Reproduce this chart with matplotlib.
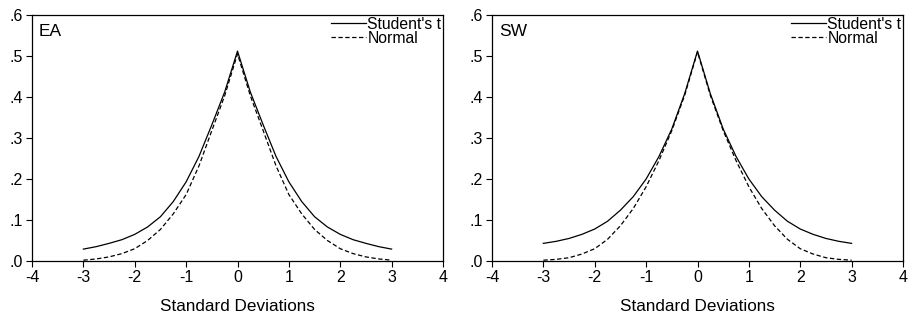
import matplotlib
matplotlib.use("Agg")
import matplotlib.pyplot as plt
from matplotlib.ticker import FuncFormatter, FixedLocator

plt.rcParams['font.family'] = ['Liberation Sans', 'DejaVu Sans']

x_vals = [-3.0, -2.75, -2.5, -2.25, -2.0, -1.75, -1.5, -1.25, -1.0, -0.75, -0.5, -0.25,
          0.0, 0.25, 0.5, 0.75, 1.0, 1.25, 1.5, 1.75, 2.0, 2.25, 2.5, 2.75, 3.0]

ea_student = [0.029, 0.035, 0.043, 0.052, 0.065, 0.083, 0.108, 0.145, 0.193, 0.255, 0.332, 0.412,
              0.512, 0.412, 0.332, 0.255, 0.193, 0.145, 0.108, 0.083, 0.065, 0.052, 0.043, 0.035, 0.029]
ea_normal = [0.002, 0.005, 0.010, 0.018, 0.030, 0.050, 0.077, 0.115, 0.162, 0.232, 0.318, 0.403,
             0.505, 0.403, 0.318, 0.232, 0.162, 0.115, 0.077, 0.050, 0.030, 0.018, 0.010, 0.005, 0.002]

sw_student = [0.043, 0.048, 0.055, 0.065, 0.078, 0.097, 0.124, 0.157, 0.200, 0.255, 0.322, 0.408,
              0.512, 0.408, 0.322, 0.255, 0.200, 0.157, 0.124, 0.097, 0.078, 0.065, 0.055, 0.048, 0.043]
sw_normal = [0.002, 0.004, 0.008, 0.017, 0.030, 0.053, 0.086, 0.128, 0.181, 0.245, 0.318, 0.404,
             0.510, 0.404, 0.318, 0.245, 0.181, 0.128, 0.086, 0.053, 0.030, 0.017, 0.008, 0.004, 0.002]

panel_titles = ["EA", "SW"]
series_labels = ["Student's t", "Normal"]
x_ticks = [-4, -3, -2, -1, 0, 1, 2, 3, 4]
y_ticks = [0.0, 0.1, 0.2, 0.3, 0.4, 0.5, 0.6]
x_label = "Standard Deviations"

W, H = 909, 322
fig = plt.figure(figsize=(W / 100, H / 100), dpi=100)

panels = [
    (panel_titles[0], ea_student, ea_normal, [32, 15, 443, 261]),
    (panel_titles[1], sw_student, sw_normal, [492, 15, 903, 261]),
]

for title, st, nm, (l, t, r, b) in panels:
    ax = fig.add_axes([l / W, 1 - b / H, (r - l) / W, (b - t) / H])
    ax.plot(x_vals, st, color='black', lw=0.9, label=series_labels[0])
    ax.plot(x_vals, nm, color='black', lw=0.9, linestyle=(0, (3.5, 2)), label=series_labels[1])
    ax.set_xlim(-4, 4)
    ax.set_ylim(0, 0.6)
    ax.xaxis.set_major_locator(FixedLocator(x_ticks))
    ax.yaxis.set_major_locator(FixedLocator(y_ticks))
    ax.yaxis.set_major_formatter(FuncFormatter(lambda v, p: f"{v:.1f}".lstrip('0')))
    ax.xaxis.set_major_formatter(FuncFormatter(lambda v, p: f"{int(round(v))}"))
    ax.tick_params(direction='out', length=4, width=0.8, labelsize=11.5, colors='black', pad=2.5)
    for s in ax.spines.values():
        s.set_linewidth(0.9)
    ax.set_xlabel(x_label, fontsize=12.3, labelpad=10)
    ax.text(0.017, 0.965, title, transform=ax.transAxes, ha='left', va='top', fontsize=12.5)
    ax.legend(loc='upper right', frameon=False, fontsize=11.3, handlelength=2.2,
              handletextpad=0.1, labelspacing=-0.05, borderaxespad=0.1, borderpad=0.0)

fig.savefig("out.png", dpi=100)
